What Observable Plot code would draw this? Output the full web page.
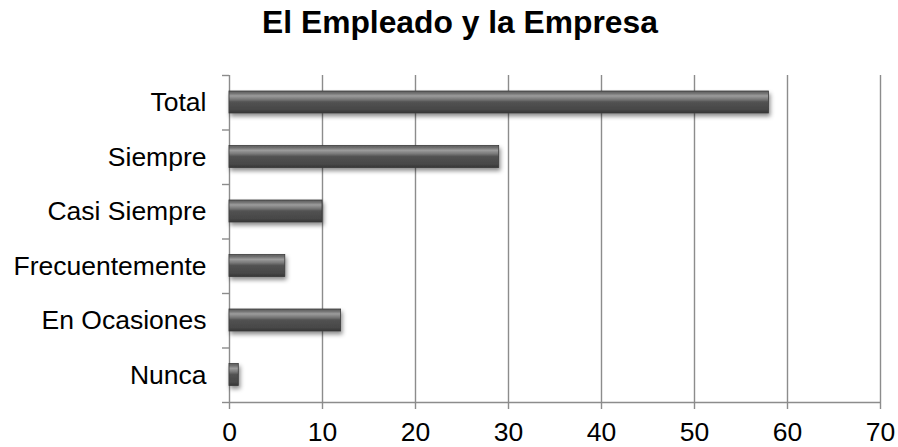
<!DOCTYPE html>
<html>
<head>
<meta charset="utf-8">
<script src="https://cdn.jsdelivr.net/npm/d3@7"></script>
<script src="https://cdn.jsdelivr.net/npm/@observablehq/plot@0.6"></script>
<style>
  html, body { margin: 0; padding: 0; background: #fff; }
  #chart { width: 898px; height: 447px; font-family: "Liberation Sans", Arial, sans-serif; }
  .title {
    box-sizing: border-box; width: 898px; height: 60px; margin: 0;
    padding: 7px 0 0 22px; text-align: center;
    font-size: 31.8px; line-height: 31px; font-weight: bold; color: #000;
  }
  svg { display: block; }
</style>
</head>
<body>
<div id="chart">
  <div class="title">El Empleado y la Empresa</div>
</div>
<script>
// Responses, top to bottom
const categories = ["Total", "Siempre", "Casi Siempre", "Frecuentemente", "En Ocasiones", "Nunca"];
const values = [58, 29, 10, 6, 12, 1];
const xTicks = [0, 10, 20, 30, 40, 50, 60, 70];

const rows = categories.map((c, i) => ({category: c, i, value: values[i]}));
const bandEdges = d3.range(categories.length + 1);
const bandCenters = categories.map((_, i) => i + 0.5);

const grid = "#8c8c8c";

const svg = Plot.plot({
  width: 898,
  height: 387,
  marginTop: 15,
  marginBottom: 45,
  marginLeft: 229,
  marginRight: 18,
  style: {fontFamily: "'Liberation Sans', Arial, sans-serif", fontSize: "26.5px", color: "#000", background: "#fff"},
  x: {domain: [0, 70], label: null},
  y: {domain: [0, categories.length], reverse: true, label: null},
  marks: [
    // vertical gridlines (the one at 0 doubles as the value axis line)
    Plot.ruleX(xTicks, {stroke: grid, strokeWidth: 1.4}),
    // horizontal axis line
    Plot.ruleY([categories.length], {stroke: grid, strokeWidth: 1.4}),
    // category separators on the left axis
    Plot.axisY(bandEdges, {tickSize: 7, tickFormat: () => "", stroke: grid, strokeWidth: 1.4}),
    // category labels
    Plot.axisY(bandCenters, {tickSize: 0, tickPadding: 23, tickFormat: d => categories[Math.floor(d)], fill: "#000"}),
    // value axis
    Plot.axisX(xTicks, {tickSize: 7, tickPadding: 12.5, stroke: grid, strokeWidth: 1.4, fill: "#000"}),
    // bars
    Plot.rectX(rows, {
      x1: 0, x2: "value", y1: "i", y2: d => d.i + 1,
      insetTop: 16, insetBottom: 16.5,
      fill: "url(#barGrad)", stroke: "#3a3a3a", strokeWidth: 0.8,
      ariaLabel: "bars"
    })
  ]
});

// gradient + soft drop shadow for the bars
const ns = "http://www.w3.org/2000/svg";
const defs = document.createElementNS(ns, "defs");
defs.innerHTML = `
  <linearGradient id="barGrad" x1="0" y1="0" x2="0" y2="1">
    <stop offset="0" stop-color="#5e5e5e"/>
    <stop offset="0.1" stop-color="#707070"/>
    <stop offset="0.22" stop-color="#9c9c9c"/>
    <stop offset="0.38" stop-color="#777777"/>
    <stop offset="0.5" stop-color="#525252"/>
    <stop offset="0.85" stop-color="#474747"/>
    <stop offset="1" stop-color="#363636"/>
  </linearGradient>
  <filter id="barShadow" x="-10%" y="-40%" width="130%" height="200%">
    <feDropShadow dx="1.5" dy="3" stdDeviation="2" flood-color="#000" flood-opacity="0.45"/>
  </filter>`;
svg.insertBefore(defs, svg.firstChild);
const barGroup = svg.querySelector('g[aria-label="bars"]') || svg.querySelector('g[aria-label="rect"]');
if (barGroup) barGroup.setAttribute("filter", "url(#barShadow)");

document.getElementById("chart").appendChild(svg);
</script>
</body>
</html>
